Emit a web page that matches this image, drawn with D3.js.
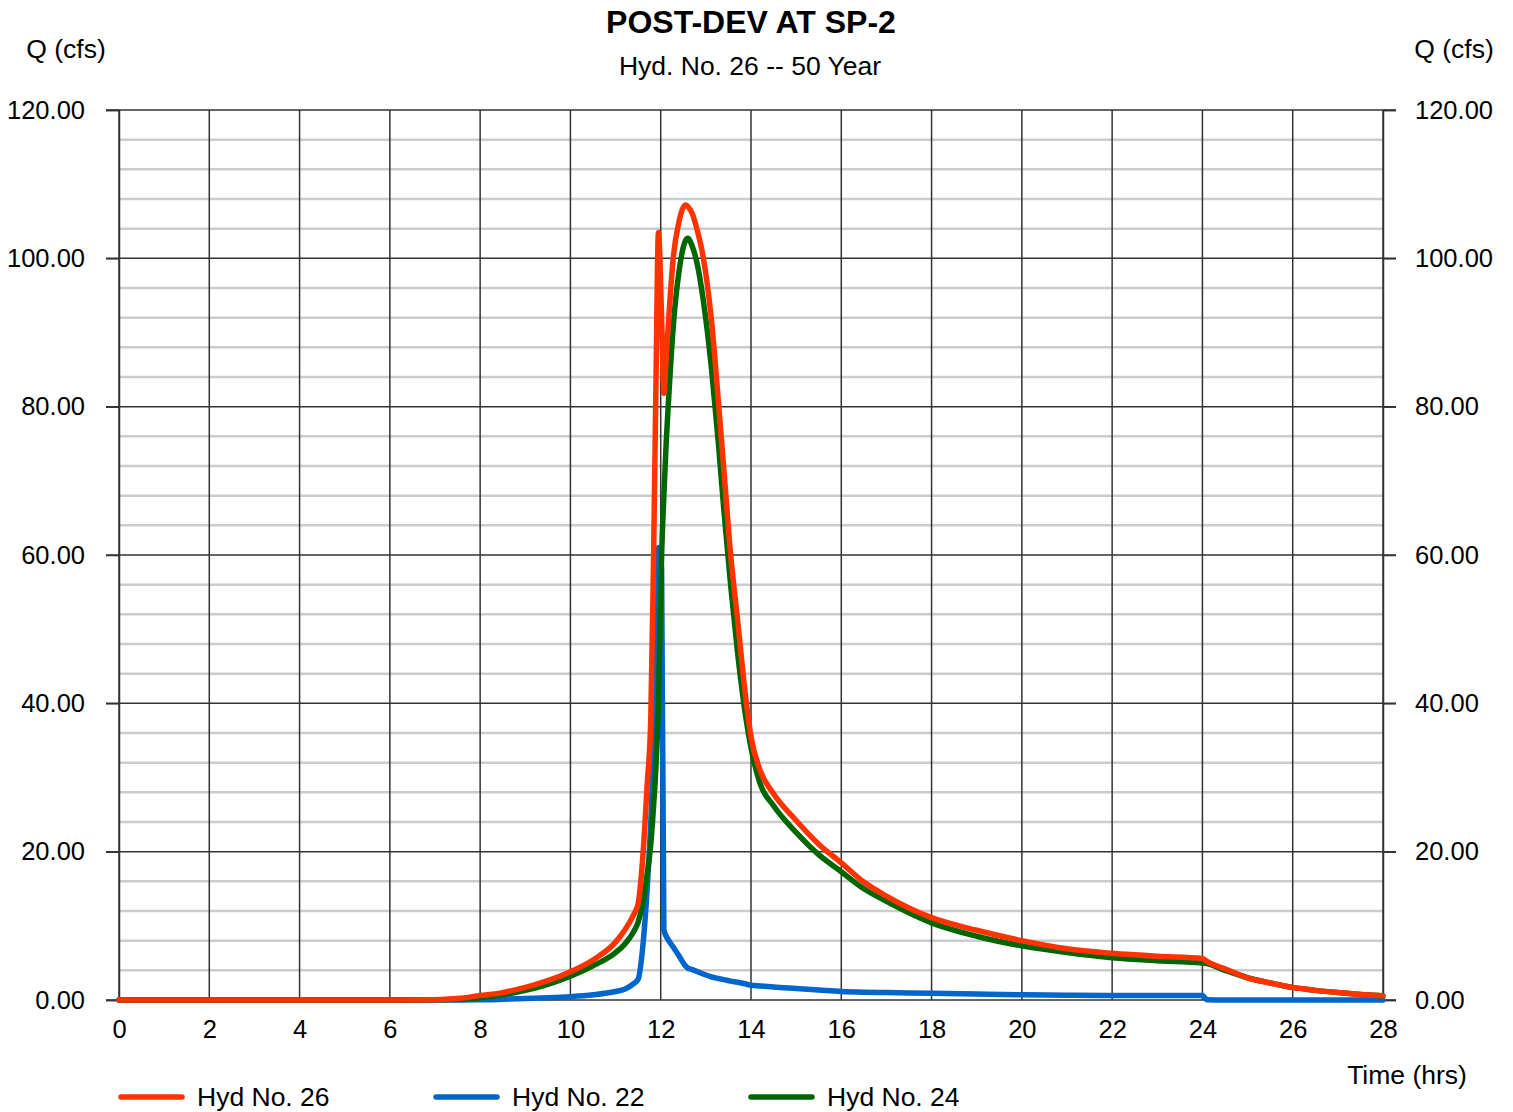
<!DOCTYPE html>
<html>
<head>
<meta charset="utf-8">
<script src="https://cdn.jsdelivr.net/npm/d3@7"></script>
<style>
  html, body { margin: 0; padding: 0; background: #ffffff; }
  svg text { font-family: "Liberation Sans", Arial, sans-serif; fill: #000; }
</style>
</head>
<body>
<svg id="chart" width="1513" height="1112"></svg>
<script>
// ---------------- data ----------------
const title = "POST-DEV AT SP-2";
const subtitle = "Hyd. No. 26 -- 50 Year";
const yLabel = "Q (cfs)";
const xLabel = "Time (hrs)";
const seriesNames = ["Hyd No. 26", "Hyd No. 22", "Hyd No. 24"];
const seriesColors = ["#ff3300", "#0066cc", "#006600"];

const xTicks = [0, 2, 4, 6, 8, 10, 12, 14, 16, 18, 20, 22, 24, 26, 28];
const yTicks = [0, 20, 40, 60, 80, 100, 120];
const yMinorTicks = [4, 8, 12, 16, 24, 28, 32, 36, 44, 48, 52, 56, 64, 68, 72, 76, 84, 88, 92, 96, 104, 108, 112, 116];

const hours = [0, 6, 7, 7.5, 8, 8.5, 9, 9.5, 10, 10.5, 11, 11.2, 11.4, 11.5, 11.6, 11.7, 11.78, 11.84, 11.89, 11.95,
  12.02, 12.07, 12.12, 12.17, 12.28, 12.4, 12.55, 12.6, 12.7, 12.8, 12.94, 13.13, 13.28, 13.4, 13.55, 13.7, 13.89,
  14.0, 14.2, 14.5, 15, 15.5, 16, 16.5, 17, 18, 19, 20, 21, 22, 23, 24, 24.1, 24.5, 25, 25.5, 26, 26.5, 27, 27.5, 28];

const hyd26 = [0, 0, 0.05, 0.2, 0.6, 1.0, 1.7, 2.6, 3.8, 5.4, 7.8, 9.4, 11.5, 13, 19, 29, 38, 59, 81, 103.5,
  92, 81.8, 86.5, 91.2, 100.2, 104.8, 107.2, 107.0, 106, 104, 100.2, 91.3, 80.5, 71.4, 60, 51.4, 40.4,
  35.5, 31, 27.8, 24.2, 21, 18.5, 15.9, 14, 11.1, 9.4, 8.0, 6.9, 6.3, 5.9, 5.6, 5.2, 4.2, 3.0, 2.3, 1.7, 1.3, 1.0, 0.75, 0.55];

const hyd22 = [0, 0, 0, 0, 0.02, 0.1, 0.2, 0.3, 0.45, 0.7, 1.15, 1.45, 2.2, 2.8, 7, 15, 24, 33, 43, 61,
  58, 9.5, 8.6, 8.1, 7.1, 6.0, 4.6, 4.3, 4.1, 3.85, 3.5, 3.1, 2.9, 2.75, 2.55, 2.4, 2.15,
  2.0, 1.9, 1.75, 1.55, 1.35, 1.15, 1.05, 1.0, 0.9, 0.8, 0.7, 0.65, 0.6, 0.6, 0.6, 0.05, 0, 0, 0, 0, 0, 0, 0, 0];

const hyd24 = [0, 0, 0.03, 0.1, 0.3, 0.7, 1.3, 2.1, 3.2, 4.6, 6.4, 7.5, 9.2, 10.5, 13, 17, 21, 26, 31, 40,
  60, 68, 75, 80.5, 91, 98, 102.4, 102.7, 101.6, 99.5, 94.5, 84.8, 74.9, 66, 55.9, 47, 37.9,
  34, 29.2, 26.2, 22.6, 19.6, 17.3, 15.0, 13.3, 10.4, 8.6, 7.3, 6.4, 5.7, 5.3, 5.0, 4.9, 4.0, 3.0, 2.3, 1.7, 1.3, 1.0, 0.75, 0.55];

// ---------------- layout ----------------
const svg = d3.select("#chart");
const x = d3.scaleLinear().domain([0, 28]).range([119, 1383]);
const y = d3.scaleLinear().domain([0, 120]).range([1000, 110]);
const tickLen = 13;
const fontSize = 26.5;
const tickFontSize = 25.5;

// minor horizontal grid
svg.append("g").selectAll("line").data(yMinorTicks).join("line")
  .attr("x1", x(0)).attr("x2", x(28))
  .attr("y1", d => y(d)).attr("y2", d => y(d))
  .attr("stroke", "#cccccc").attr("stroke-width", 2.5);

// major vertical grid
svg.append("g").selectAll("line").data(xTicks).join("line")
  .attr("x1", d => x(d)).attr("x2", d => x(d))
  .attr("y1", y(120)).attr("y2", y(0))
  .attr("stroke", "#333333").attr("stroke-width", 1.5);

// major horizontal grid (extends into tick marks on both sides)
svg.append("g").selectAll("line").data(yTicks).join("line")
  .attr("x1", x(0) - tickLen).attr("x2", x(28) + tickLen)
  .attr("y1", d => y(d)).attr("y2", d => y(d))
  .attr("stroke", "#333333").attr("stroke-width", 1.5);

// axes (labels)
const fmt = d3.format(".2f");
const leftAxis = svg.append("g").attr("transform", `translate(${x(0)},0)`)
  .call(d3.axisLeft(y).tickValues(yTicks).tickFormat(fmt).tickSize(tickLen).tickPadding(21));
const rightAxis = svg.append("g").attr("transform", `translate(${x(28)},0)`)
  .call(d3.axisRight(y).tickValues(yTicks).tickFormat(fmt).tickSize(tickLen).tickPadding(19));
const bottomAxis = svg.append("g").attr("transform", `translate(0,${y(0)})`)
  .call(d3.axisBottom(x).tickValues(xTicks).tickFormat(d3.format("d")).tickSize(0).tickPadding(20));
[leftAxis, rightAxis, bottomAxis].forEach(g => {
  g.select(".domain").attr("stroke", "#333333").attr("stroke-width", 1.5);
  g.selectAll(".tick line").attr("stroke", "#333333").attr("stroke-width", 1.5);
  g.selectAll(".tick text").attr("font-size", tickFontSize).attr("font-family", "Liberation Sans, Arial, sans-serif").attr("fill", "#000");
});
bottomAxis.select(".domain").remove();

// series
const line = d3.line().curve(d3.curveMonotoneX).x(d => x(d[0])).y(d => y(d[1]));
const seriesData = [hyd26, hyd22, hyd24].map(vals => hours.map((h, i) => [h, vals[i]]));
const drawOrder = [1, 2, 0];
drawOrder.forEach(i => {
  svg.append("path").datum(seriesData[i])
    .attr("d", line)
    .attr("fill", "none")
    .attr("stroke", seriesColors[i])
    .attr("stroke-width", 5.5)
    .attr("stroke-linejoin", "round")
    .attr("stroke-linecap", "round");
});

// titles
svg.append("text").attr("x", 751).attr("y", 33).attr("text-anchor", "middle")
  .attr("font-size", 32).attr("font-weight", "bold").text(title);
svg.append("text").attr("x", 750).attr("y", 75).attr("text-anchor", "middle")
  .attr("font-size", fontSize).text(subtitle);
svg.append("text").attr("x", 66).attr("y", 58).attr("text-anchor", "middle")
  .attr("font-size", fontSize).text(yLabel);
svg.append("text").attr("x", 1454).attr("y", 58).attr("text-anchor", "middle")
  .attr("font-size", fontSize).text(yLabel);
svg.append("text").attr("x", 1407).attr("y", 1084).attr("text-anchor", "middle")
  .attr("font-size", fontSize).text(xLabel);

// legend
const legendX = [119, 434, 749];
seriesNames.forEach((name, i) => {
  const g = svg.append("g").attr("transform", `translate(${legendX[i]},1097)`);
  g.append("line").attr("x1", 2).attr("x2", 63).attr("y1", 0).attr("y2", 0)
    .attr("stroke", seriesColors[i]).attr("stroke-width", 5.5).attr("stroke-linecap", "round");
  g.append("text").attr("x", 78).attr("y", 9).attr("font-size", fontSize).text(name);
});
</script>
</body>
</html>
